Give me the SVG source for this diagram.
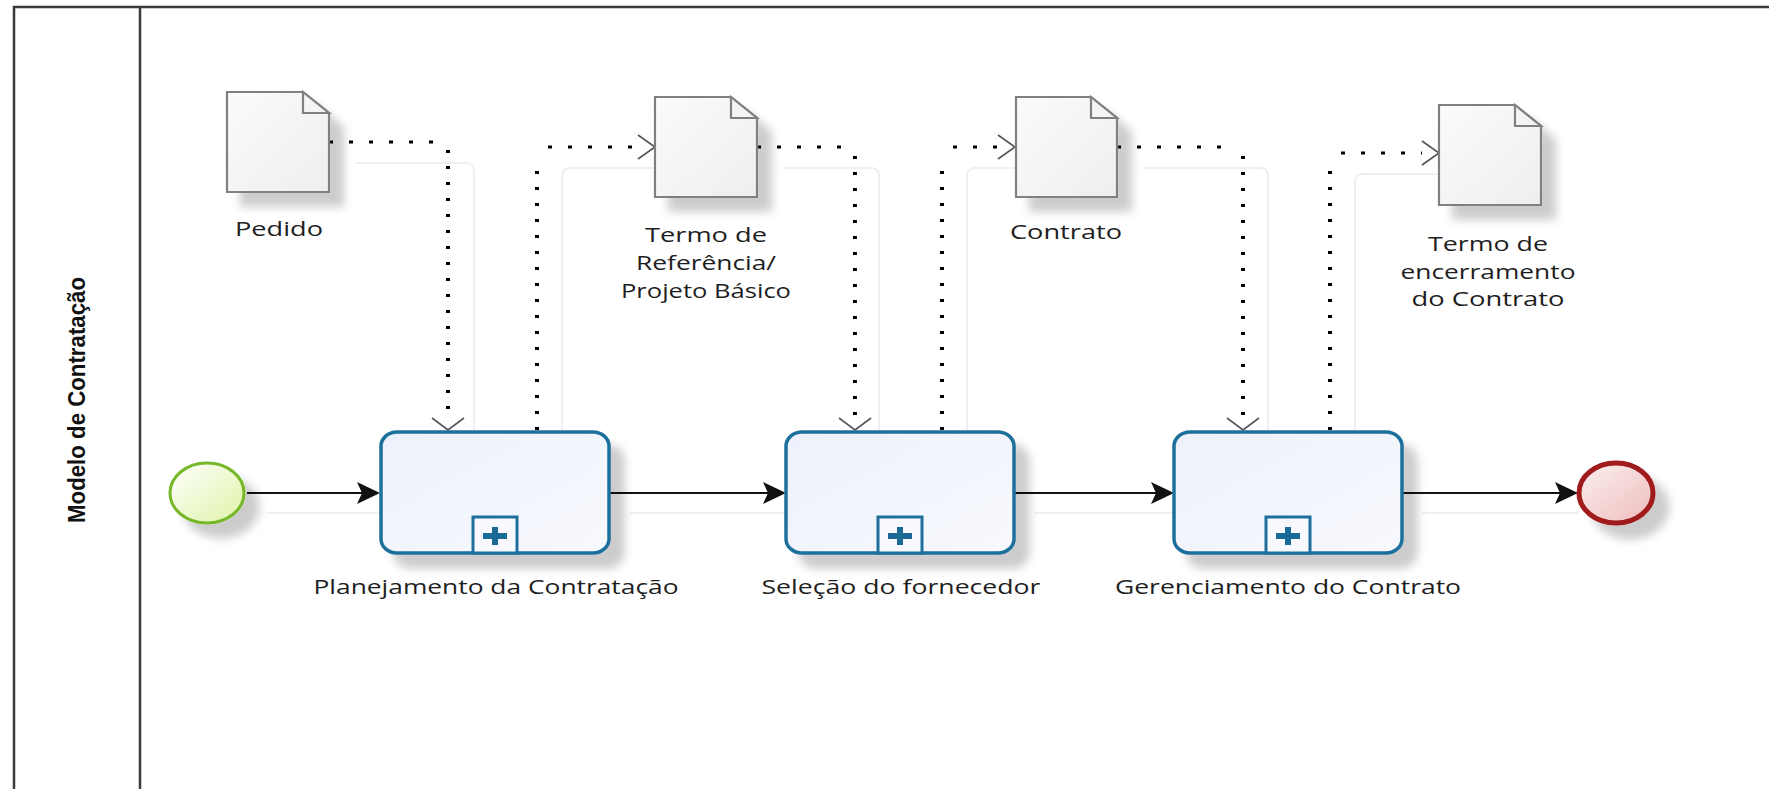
<svg xmlns="http://www.w3.org/2000/svg" width="1769" height="789" viewBox="0 0 1769 789">
<style>
.pool{fill:none;stroke:#3a3a3a;stroke-width:2.5}
.lbl{font-family:"Open Sans","Noto Sans","DejaVu Sans",sans-serif;font-size:20px;fill:#1e1e1e;text-anchor:middle}
.lane{font-family:"Liberation Sans",Arial,sans-serif;font-weight:bold;font-size:18.5px;fill:#111;text-anchor:middle}
.doc{fill:url(#gDoc);stroke:#808080;stroke-width:2.2}
.fold{fill:#f4f4f4;stroke:#808080;stroke-width:2.2}
.task{fill:url(#gTask);stroke:#1f6f9c;stroke-width:3.5}
.sub{fill:#f7f9fe;stroke:#1f6f9c;stroke-width:3}
.plus{fill:#1b6a96}
.seq{fill:none;stroke:#111;stroke-width:2}
.dh{fill:none;stroke:#000;stroke-width:3;stroke-dasharray:4 16}
.dv{fill:none;stroke:#000;stroke-width:4;stroke-dasharray:3 13}
.shl{fill:none;stroke:#efefef;stroke-width:2}
</style>
<defs>
<linearGradient id="gDoc" x1="0" y1="0" x2="1" y2="1"><stop offset="0" stop-color="#fbfbfb"/><stop offset="1" stop-color="#eeeeee"/></linearGradient>
<linearGradient id="gTask" x1="0" y1="0" x2="1" y2="1"><stop offset="0" stop-color="#edf1fb"/><stop offset="1" stop-color="#f8f9fe"/></linearGradient>
<linearGradient id="gStart" x1="0" y1="0" x2="1" y2="1"><stop offset="0" stop-color="#ffffff"/><stop offset="1" stop-color="#def3a6"/></linearGradient>
<linearGradient id="gEnd" x1="0" y1="0" x2="1" y2="1"><stop offset="0" stop-color="#fbf0f0"/><stop offset="1" stop-color="#efbcbc"/></linearGradient>
<filter id="sh" x="-20%" y="-20%" width="160%" height="160%">
<feGaussianBlur in="SourceAlpha" stdDeviation="5"/>
<feOffset dx="14" dy="14" result="o"/>
<feComponentTransfer><feFuncA type="linear" slope="0.2"/></feComponentTransfer>
<feMerge><feMergeNode/><feMergeNode in="SourceGraphic"/></feMerge>
</filter>
<marker id="seqA" markerUnits="userSpaceOnUse" markerWidth="30" markerHeight="30" refX="5" refY="11" orient="0" overflow="visible">
<path d="M0,0 L23,11 L0,22 L5,11 Z" fill="#111"/>
</marker>
<marker id="vR" markerUnits="userSpaceOnUse" markerWidth="30" markerHeight="30" refX="0" refY="12" orient="0" overflow="visible">
<path d="M0,0 L17,12 L0,24" fill="none" stroke="#555" stroke-width="1.6"/>
</marker>
<marker id="vD" markerUnits="userSpaceOnUse" markerWidth="40" markerHeight="30" refX="16" refY="0" orient="0" overflow="visible">
<path d="M0,0 L16,12 L32,0" fill="none" stroke="#555" stroke-width="1.6"/>
</marker>
</defs>

<g id="pool">
<path class="pool" d="M14,789 V7 H1769"/>
<path class="pool" d="M140,7 V789"/>
<text class="lane" transform="translate(85,400) rotate(-90) scale(1,1.25)" textLength="246" lengthAdjust="spacingAndGlyphs">Modelo de Contratação</text>
</g>

<g id="connector-shadows">
<path class="shl" d="M267,513 H380 M630,513 H786 M1034,513 H1174 M1422,513 H1578"/>
<path class="shl" d="M355,163 H466 Q474,163 474,171 V430"/>
<path class="shl" d="M562,430 V176 Q562,168 570,168 H655"/>
<path class="shl" d="M783,168 H871 Q879,168 879,176 V430"/>
<path class="shl" d="M967,430 V176 Q967,168 975,168 H1016"/>
<path class="shl" d="M1143,168 H1260 Q1268,168 1268,176 V430"/>
<path class="shl" d="M1355,430 V182 Q1355,174 1363,174 H1439"/>
</g>

<g id="connectors">
<path class="seq" d="M247,493 H362" marker-end="url(#seqA)"/>
<path class="seq" d="M610,493 H768" marker-end="url(#seqA)"/>
<path class="seq" d="M1014,493 H1156" marker-end="url(#seqA)"/>
<path class="seq" d="M1402,493 H1560" marker-end="url(#seqA)"/>
<g id="a1"><path class="dh" d="M329,142 H440"/><path class="dv" d="M448,150 V418" marker-end="url(#vD)"/></g>
<g id="a2"><path class="dv" d="M537,430 V158"/><path class="dh" d="M548,147 H638" marker-end="url(#vR)"/></g>
<g id="a3"><path class="dh" d="M757,147 H846"/><path class="dv" d="M855,156 V418" marker-end="url(#vD)"/></g>
<g id="a4"><path class="dv" d="M942,430 V158"/><path class="dh" d="M953,147 H998" marker-end="url(#vR)"/></g>
<g id="a5"><path class="dh" d="M1117,147 H1234"/><path class="dv" d="M1243,156 V418" marker-end="url(#vD)"/></g>
<g id="a6"><path class="dv" d="M1330,430 V164"/><path class="dh" d="M1341,153 H1422" marker-end="url(#vR)"/></g>
</g>

<g id="start">
<ellipse cx="207" cy="493" rx="37" ry="30" fill="url(#gStart)" stroke="#76b82a" stroke-width="3" filter="url(#sh)"/>
</g>

<g id="task1">
<rect class="task" x="381" y="432" width="228" height="121" rx="16" ry="14" filter="url(#sh)"/>
<rect class="sub" x="473" y="517" width="44" height="36"/>
<rect class="plus" x="483" y="533" width="24" height="6"/><rect class="plus" x="492" y="527" width="6" height="18"/>
<text class="lbl" x="496" y="594" textLength="365" lengthAdjust="spacingAndGlyphs">Planejamento da Contratação</text>
</g>

<g id="task2">
<rect class="task" x="786" y="432" width="228" height="121" rx="16" ry="14" filter="url(#sh)"/>
<rect class="sub" x="878" y="517" width="44" height="36"/>
<rect class="plus" x="888" y="533" width="24" height="6"/><rect class="plus" x="897" y="527" width="6" height="18"/>
<text class="lbl" x="901" y="594" textLength="279" lengthAdjust="spacingAndGlyphs">Seleção do fornecedor</text>
</g>

<g id="task3">
<rect class="task" x="1174" y="432" width="228" height="121" rx="16" ry="14" filter="url(#sh)"/>
<rect class="sub" x="1266" y="517" width="44" height="36"/>
<rect class="plus" x="1276" y="533" width="24" height="6"/><rect class="plus" x="1285" y="527" width="6" height="18"/>
<text class="lbl" x="1288" y="594" textLength="346" lengthAdjust="spacingAndGlyphs">Gerenciamento do Contrato</text>
</g>

<g id="end">
<ellipse cx="1616" cy="493" rx="37" ry="30" fill="url(#gEnd)" stroke="#a01a1a" stroke-width="5" filter="url(#sh)"/>
</g>

<g id="doc-pedido">
<path class="doc" d="M227,92 H303 L329,113 V192 H227 Z" filter="url(#sh)"/>
<path class="fold" d="M303,92 V113 H329 Z"/>
<text class="lbl" x="279" y="236" textLength="88" lengthAdjust="spacingAndGlyphs">Pedido</text>
</g>

<g id="doc-termo-referencia">
<path class="doc" d="M655,97 H731 L757,118 V197 H655 Z" filter="url(#sh)"/>
<path class="fold" d="M731,97 V118 H757 Z"/>
<text class="lbl" x="706" y="242" textLength="122" lengthAdjust="spacingAndGlyphs">Termo de</text>
<text class="lbl" x="706" y="270" textLength="140" lengthAdjust="spacingAndGlyphs">Referência/</text>
<text class="lbl" x="706" y="298" textLength="170" lengthAdjust="spacingAndGlyphs">Projeto Básico</text>
</g>

<g id="doc-contrato">
<path class="doc" d="M1016,97 H1091 L1117,118 V197 H1016 Z" filter="url(#sh)"/>
<path class="fold" d="M1091,97 V118 H1117 Z"/>
<text class="lbl" x="1066" y="239" textLength="112" lengthAdjust="spacingAndGlyphs">Contrato</text>
</g>

<g id="doc-termo-encerramento">
<path class="doc" d="M1439,105 H1515 L1541,126 V205 H1439 Z" filter="url(#sh)"/>
<path class="fold" d="M1515,105 V126 H1541 Z"/>
<text class="lbl" x="1488" y="251" textLength="120" lengthAdjust="spacingAndGlyphs">Termo de</text>
<text class="lbl" x="1488" y="279" textLength="175" lengthAdjust="spacingAndGlyphs">encerramento</text>
<text class="lbl" x="1488" y="306" textLength="153" lengthAdjust="spacingAndGlyphs">do Contrato</text>
</g>
</svg>
